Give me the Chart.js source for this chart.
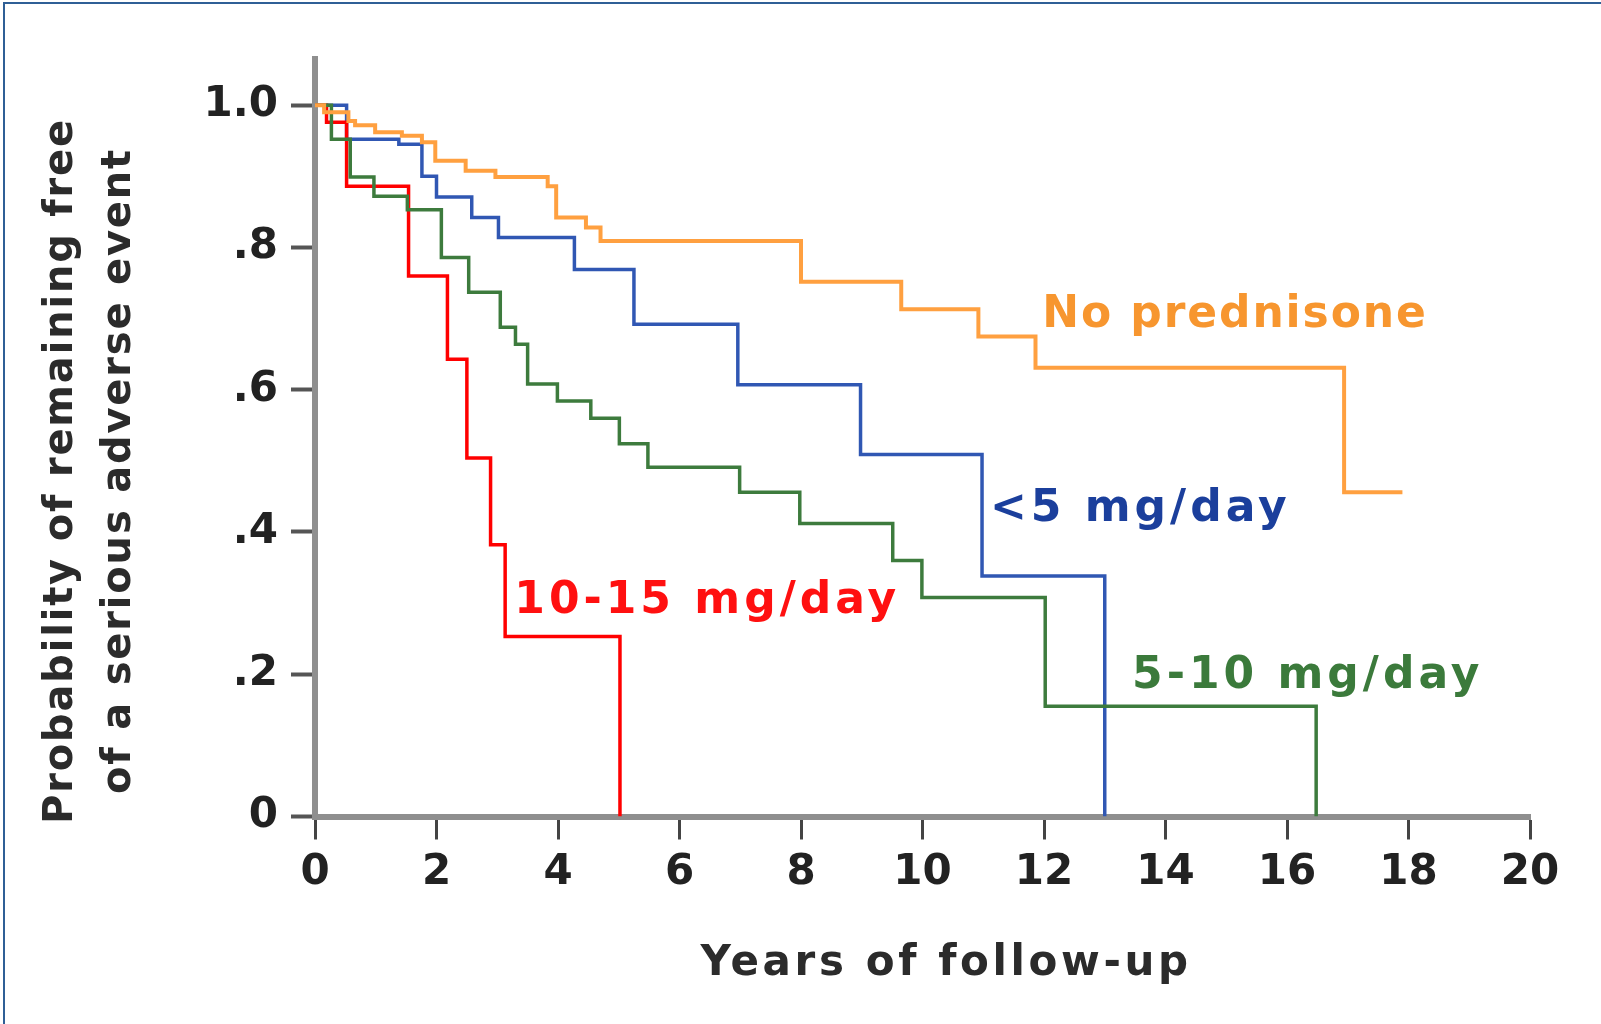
<!DOCTYPE html>
<html>
<head>
<meta charset="utf-8">
<title>Prednisone dose and serious adverse events</title>
<script src="https://cdn.jsdelivr.net/npm/chart.js@4.4.1/dist/chart.umd.min.js"></script>
<style>
  html, body { margin: 0; padding: 0; background: #fff; }
  #wrap  { position: relative; width: 1601px; height: 1024px; }
  #frame { position: absolute; left: 3px; top: 2px; right: 0; bottom: 0;
           border-top: 2px solid #2f5f96; border-left: 2px solid #2f5f96; pointer-events: none; }
</style>
</head>
<body>
<div id="wrap">
  <canvas id="chartKM"></canvas>
  <div id="frame"></div>
</div>
<script>
// ============================================================
//  Kaplan-Meier: tiempo libre de evento adverso grave según dosis
// ============================================================

// --- No prednisone
const NONE_T = [0, 0.15, 0.55, 0.66, 0.99, 1.43, 1.76, 1.98, 2.48, 2.97, 3.83, 3.97, 4.46, 4.70, 8.00, 9.65, 10.92, 11.86, 16.94, 17.90];
const NONE_S = [1.0, 0.99, 0.978, 0.972, 0.962, 0.957, 0.948, 0.922, 0.908, 0.899, 0.886, 0.842, 0.828, 0.809, 0.752, 0.713, 0.675, 0.631, 0.456, 0.456];

// --- <5 mg/day
const LOW_T = [0, 0.52, 1.38, 1.76, 2.00, 2.58, 3.02, 4.27, 5.25, 6.96, 8.98, 10.98, 13.00];
const LOW_S = [1.0, 0.952, 0.945, 0.900, 0.871, 0.842, 0.814, 0.769, 0.692, 0.607, 0.509, 0.338, 0];

// --- 5-10 mg/day
const MID_T = [0, 0.27, 0.58, 0.97, 1.52, 2.08, 2.53, 3.05, 3.30, 3.50, 3.99, 4.54, 5.01, 5.48, 6.99, 7.98, 9.51, 9.99, 12.02, 16.48];
const MID_S = [1.0, 0.952, 0.899, 0.872, 0.853, 0.786, 0.737, 0.688, 0.664, 0.608, 0.584, 0.560, 0.524, 0.491, 0.456, 0.412, 0.360, 0.308, 0.155, 0];

// --- 10-15 mg/day
const HIGH_T = [0, 0.19, 0.52, 1.54, 2.18, 2.50, 2.89, 3.13, 5.02];
const HIGH_S = [1.0, 0.976, 0.886, 0.760, 0.643, 0.504, 0.382, 0.253, 0];

const Y_TICKS       = [0, 0.2, 0.4, 0.6, 0.8, 1.0];
const Y_TICK_LABELS = ['0', '.2', '.4', '.6', '.8', '1.0'];

const FONT = '"DejaVu Sans", Verdana, sans-serif';

// etiquetas de cada curva (posición en unidades de datos)
const LABELS = [
  { text: 'No prednisone', at: [11.97, 0.688], color: '#f7962f', spacing: 1.9 },
  { text: '<5 mg/day',     at: [11.11, 0.416], color: '#1b3f9c', spacing: 4.0 },
  { text: '10-15 mg/day',  at: [3.28, 0.286],  color: '#ff1010', spacing: 4.0 },
  { text: '5-10 mg/day',   at: [13.45, 0.181], color: '#3b7a3b', spacing: 4.0 }
];

const toPoints = (ts, ss) => ts.map((t, i) => ({ x: t, y: ss[i] }));

function curve(label, ts, ss, color, width) {
  return {
    label,
    data: toPoints(ts, ss),
    borderColor: color,
    borderWidth: width,
    stepped: 'before',
    pointRadius: 0,
    fill: false
  };
}

// Textos: etiquetas de curvas y títulos de ejes
const annotations = {
  id: 'annotations',
  afterDatasetsDraw(chart) {
    const { ctx, scales: { x, y } } = chart;
    ctx.save();
    ctx.textAlign = 'left';
    ctx.textBaseline = 'alphabetic';
    ctx.font = `bold 44px ${FONT}`;
    for (const l of LABELS) {
      ctx.letterSpacing = l.spacing + 'px';
      ctx.fillStyle = l.color;
      ctx.fillText(l.text, x.getPixelForValue(l.at[0]), y.getPixelForValue(l.at[1]));
    }

    // título eje X
    ctx.fillStyle = '#2b2b2b';
    ctx.font = `bold 42px ${FONT}`;
    ctx.letterSpacing = '3.6px';
    ctx.textAlign = 'center';
    ctx.fillText('Years of follow-up', 946, 975);

    // título eje Y (dos líneas, rotado)
    ctx.font = `bold 40px ${FONT}`;
    ctx.letterSpacing = '1.8px';
    ctx.textBaseline = 'middle';
    ctx.translate(0, 471);
    ctx.rotate(-Math.PI / 2);
    ctx.fillText('Probability of remaining free', 0, 62);
    ctx.fillText('of a serious adverse event', 0, 120);
    ctx.restore();
  }
};

new Chart(document.getElementById('chartKM').getContext('2d'), {
  type: 'line',
  data: {
    datasets: [
      curve('No prednisone', NONE_T, NONE_S, '#ffa040', 4),
      curve('5-10 mg/day',   MID_T,  MID_S,  '#3d7b3d', 3.5),
      curve('10-15 mg/day',  HIGH_T, HIGH_S, '#ff0000', 3.5),
      curve('<5 mg/day',     LOW_T,  LOW_S,  '#3057b3', 3.5)
    ]
  },
  options: {
    responsive: true,
    maintainAspectRatio: false,
    animation: false,
    layout: { padding: { top: 59, right: 71, left: 0, bottom: 0 } },
    scales: {
      x: {
        type: 'linear',
        min: 0,
        max: 20,
        afterFit: s => { s.height = 207.5; },
        ticks: { stepSize: 2, padding: 8, color: '#222', font: { family: FONT, size: 42, weight: 'bold' } },
        grid: { drawOnChartArea: false, tickLength: 23, tickWidth: 3, tickColor: '#444' },
        border: { display: true, color: '#8f8f8f', width: 6 }
      },
      y: {
        min: 0,
        max: 1.065,
        afterFit: s => { s.width = 315; },
        afterBuildTicks: s => { s.ticks = Y_TICKS.map(v => ({ value: v })); },
        ticks: {
          padding: 13,
          color: '#222',
          font: { family: FONT, size: 42, weight: 'bold' },
          callback: (v, i) => Y_TICK_LABELS[i]
        },
        grid: { drawOnChartArea: false, tickLength: 24, tickWidth: 4, tickColor: '#555' },
        border: { display: true, color: '#8f8f8f', width: 6 }
      }
    },
    plugins: {
      legend: { display: false },
      tooltip: { enabled: false }
    }
  },
  plugins: [annotations]
});
</script>
</body>
</html>
